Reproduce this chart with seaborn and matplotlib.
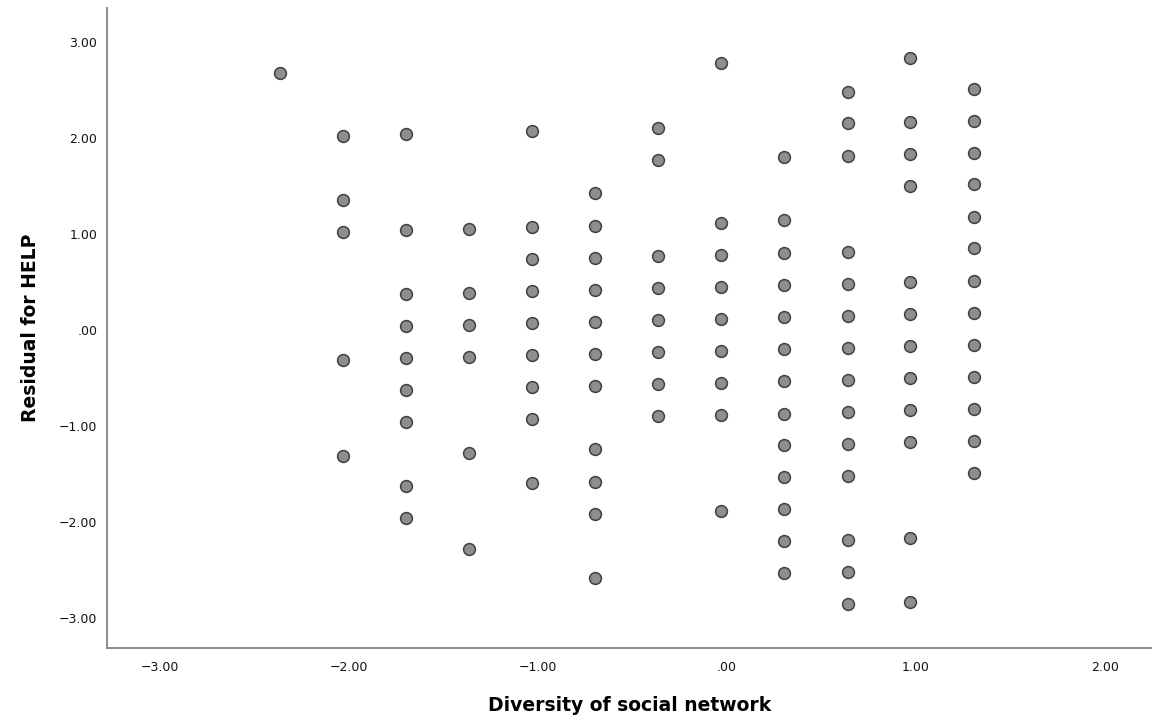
import numpy as np
import pandas as pd
import matplotlib
matplotlib.use("Agg")
import matplotlib.pyplot as plt
import seaborn as sns
from matplotlib.ticker import FuncFormatter

# diversity score levels (x) and the residuals seen at each level
diversity_levels = [-2.365, -2.03, -1.70, -1.365, -1.03, -0.70, -0.365, -0.03, 0.30, 0.64, 0.97, 1.31]

res_m237 = [2.67]
res_m203 = [2.02, 1.35, 1.02, -0.31, -1.31]
res_m170 = [2.04, 1.04, 0.37, 0.04, -0.29, -0.62, -0.96, -1.62, -1.96]
res_m137 = [1.05, 0.38, 0.05, -0.28, -1.28, -2.28]
res_m103 = [2.07, 1.07, 0.74, 0.41, 0.07, -0.26, -0.59, -0.93, -1.59]
res_m070 = [1.42, 1.08, 0.75, 0.42, 0.08, -0.25, -0.58, -1.24, -1.58, -1.91, -2.58]
res_m037 = [2.10, 1.77, 0.77, 0.44, 0.10, -0.23, -0.56, -0.90]
res_m003 = [2.78, 1.11, 0.78, 0.45, 0.11, -0.22, -0.55, -0.88, -1.88]
res_p030 = [1.80, 1.14, 0.80, 0.47, 0.14, -0.20, -0.53, -0.87, -1.20, -1.53, -1.86, -2.20, -2.53]
res_p064 = [2.48, 2.15, 1.81, 0.81, 0.48, 0.15, -0.19, -0.52, -0.85, -1.19, -1.52, -2.19, -2.52, -2.85]
res_p097 = [2.83, 2.16, 1.83, 1.50, 0.50, 0.17, -0.17, -0.50, -0.83, -1.17, -2.16, -2.83]
res_p131 = [2.51, 2.17, 1.84, 1.52, 1.18, 0.85, 0.51, 0.18, -0.16, -0.49, -0.82, -1.16, -1.49]

residuals = [res_m237, res_m203, res_m170, res_m137, res_m103, res_m070,
             res_m037, res_m003, res_p030, res_p064, res_p097, res_p131]

x_ticks = [-3, -2, -1, 0, 1, 2]
y_ticks = [-3, -2, -1, 0, 1, 2, 3]

rows = []
for lvl, vals in zip(diversity_levels, residuals):
    for v in vals:
        rows.append((lvl, v))
df = pd.DataFrame(rows, columns=["diversity", "residual"])

sns.set_style("white")
plt.rcParams['font.family'] = ['DejaVu Sans']

fig = plt.figure(figsize=(11.52, 7.25), dpi=100)
ax = fig.add_axes([0.093, 0.106, 0.907, 0.883])

sns.scatterplot(data=df, x="diversity", y="residual", ax=ax,
                s=72, color="#8e8e8e", edgecolor="#404040", linewidth=1.1,
                zorder=3)

ax.set_xlim(-3.28, 2.25)
ax.set_ylim(-3.31, 3.35)
ax.set_xticks(x_ticks)
ax.set_yticks(y_ticks)


def spss_fmt(v, pos):
    s = f"{v:.2f}"
    if s.startswith("0."):
        s = s[1:]
    elif s.startswith("-0."):
        s = "-" + s[2:]
    return s.replace("-", "\u2212")


ax.xaxis.set_major_formatter(FuncFormatter(spss_fmt))
ax.yaxis.set_major_formatter(FuncFormatter(spss_fmt))
ax.tick_params(axis="x", length=0, labelsize=9, colors="#111111", pad=9)
ax.tick_params(axis="y", length=0, labelsize=9, colors="#111111", pad=7)

sns.despine(ax=ax)
for side in ["left", "bottom"]:
    ax.spines[side].set_color("#8a8a8a")
    ax.spines[side].set_linewidth(1.4)

ax.set_xlabel("Diversity of social network", fontsize=13.5, fontweight="bold",
              labelpad=16, color="#000000")
ax.set_ylabel("Residual for HELP", fontsize=13.5, fontweight="bold",
              labelpad=14, color="#000000")

fig.savefig("out.png", dpi=100)
